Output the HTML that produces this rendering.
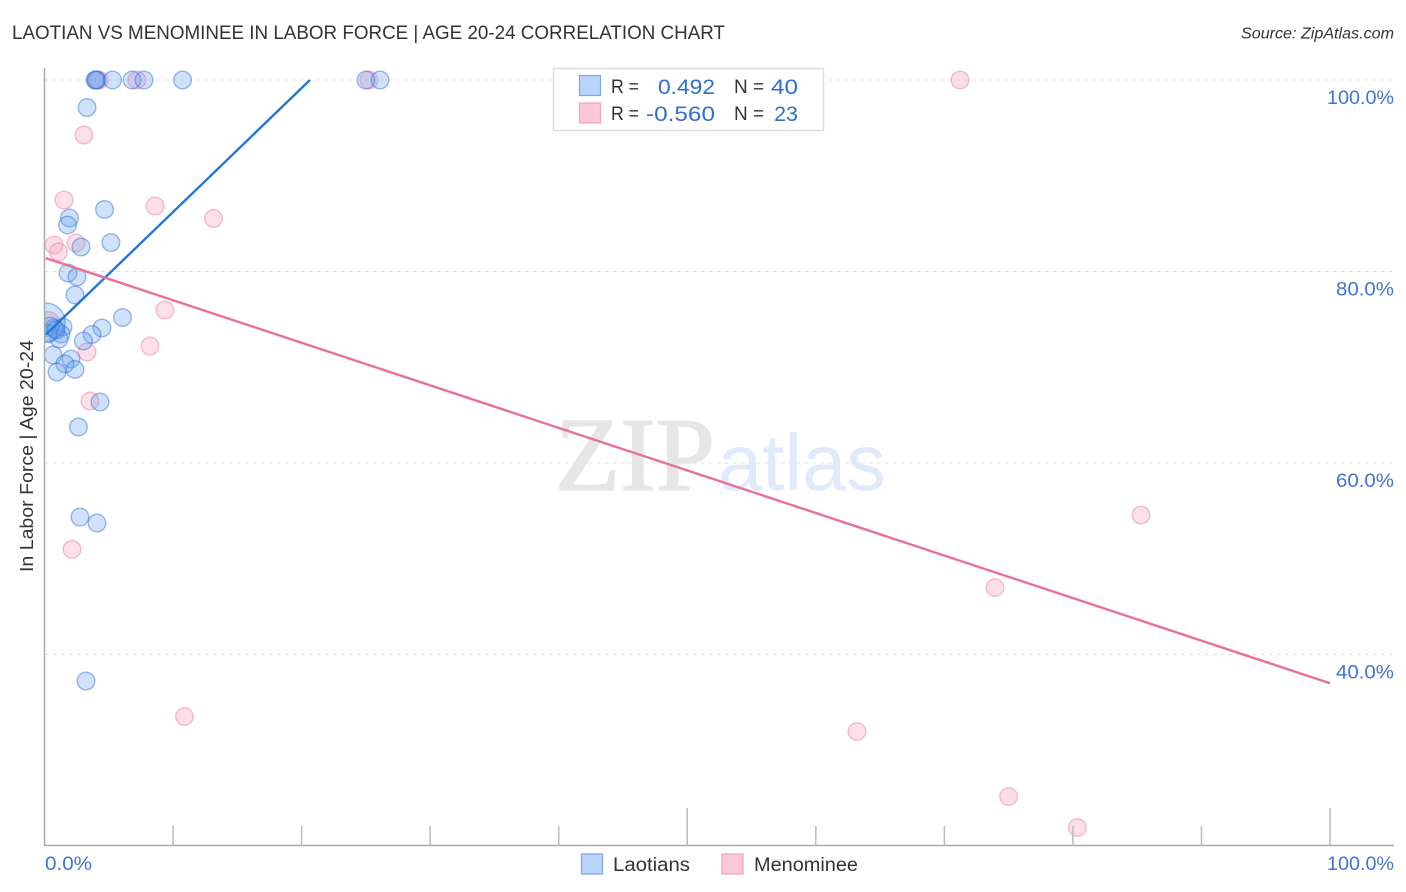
<!DOCTYPE html>
<html lang="en">
<head>
<meta charset="utf-8">
<title>Laotian vs Menominee in Labor Force | Age 20-24 Correlation Chart</title>
<style>
  html, body { margin: 0; padding: 0; background: #fff; }
  svg { display: block; font-family: "Liberation Sans", sans-serif; }
</style>
</head>
<body>
<svg id="chart" xmlns="http://www.w3.org/2000/svg" width="1406" height="892" viewBox="0 0 1406 892">
  <defs>
    <clipPath id="plot-clip"><rect x="45" y="60" width="1349" height="785"></rect></clipPath>
  </defs>
  <rect width="1406" height="892" fill="#ffffff"></rect>

  <text x="12" y="39" font-size="19" fill="#333333" textLength="713" lengthAdjust="spacingAndGlyphs">LAOTIAN VS MENOMINEE IN LABOR FORCE | AGE 20-24 CORRELATION CHART</text>
  <text x="1241" y="38.5" font-size="15.5" font-style="italic" fill="#333333" textLength="153" lengthAdjust="spacingAndGlyphs">Source: ZipAtlas.com</text>

  <g id="grid"></g>

  <g>
    <text x="555" y="490" font-family="'Liberation Serif', serif" font-size="105" fill="#e6e6e6" stroke="#e6e6e6" stroke-width="1.6" textLength="160" lengthAdjust="spacingAndGlyphs">ZIP</text>
    <text x="718" y="490" font-size="80" fill="#e0eafa" textLength="168" lengthAdjust="spacingAndGlyphs">atlas</text>
  </g>

  <g id="points" clip-path="url(#plot-clip)"></g>
  <g id="trends" clip-path="url(#plot-clip)"></g>
  <g id="axes"></g>

  <text transform="translate(33 456) rotate(-90)" font-size="18.5" fill="#333333" text-anchor="middle" textLength="232" lengthAdjust="spacingAndGlyphs">In Labor Force | Age 20-24</text>

  <g>
    <rect x="553.5" y="68.5" width="270" height="62" fill="#ffffff" stroke="#dddddd" stroke-width="1.5"></rect>
    <rect x="579.5" y="75.5" width="21" height="20" fill="#b8d4f8" stroke="#7aa8e6" stroke-width="1.2"></rect>
    <rect x="579.5" y="103" width="21" height="20" fill="#fcc8d9" stroke="#efa3bc" stroke-width="1.2"></rect>
    <text x="611" y="93" font-size="19" fill="#333333" textLength="28" lengthAdjust="spacingAndGlyphs">R =</text>
    <text x="658" y="94" font-size="21.5" fill="#2f6fd0" textLength="57" lengthAdjust="spacingAndGlyphs">0.492</text>
    <text x="734" y="93" font-size="19" fill="#333333">N =</text>
    <text x="771" y="94" font-size="21.5" fill="#2f6fd0" textLength="27" lengthAdjust="spacingAndGlyphs">40</text>
    <text x="611" y="120" font-size="19" fill="#333333" textLength="28" lengthAdjust="spacingAndGlyphs">R =</text>
    <text x="646" y="121" font-size="21.5" fill="#2f6fd0" textLength="69" lengthAdjust="spacingAndGlyphs">-0.560</text>
    <text x="734" y="120" font-size="19" fill="#333333">N =</text>
    <text x="798" y="121" font-size="21.5" fill="#2f6fd0" text-anchor="end">23</text>
  </g>

  <g>
    <rect x="581.5" y="854" width="21" height="20" fill="#b8d4f8" stroke="#7aa8e6" stroke-width="1.2"></rect>
    <text x="613" y="871" font-size="19.5" fill="#333333" textLength="77" lengthAdjust="spacingAndGlyphs">Laotians</text>
    <rect x="722" y="854" width="21" height="20" fill="#fcc8d9" stroke="#efa3bc" stroke-width="1.2"></rect>
    <text x="754" y="871" font-size="19.5" fill="#333333" textLength="104" lengthAdjust="spacingAndGlyphs">Menominee</text>
  </g>
</svg>

<script>
const xTicks = [0, 10, 20, 30, 40, 50, 60, 70, 80, 90, 100];
const xMajorTicks = [50, 100];
const xTickLabels = ["0.0%", "100.0%"];
const yTicks = [100, 80, 60, 40];
const yTickLabels = ["100.0%", "80.0%", "60.0%", "40.0%"];

const laotiansX = [3.93, 4.08, 4.0, 5.29, 6.81, 7.74, 10.74, 25.01, 26.10, 3.31, 4.67, 1.94, 1.79, 5.17, 2.84, 1.83, 2.53, 2.37, 6.07, 4.47, 3.70, 3.03, 1.44, 1.28, 1.13, 0.74, 0.43, 0.66, 2.06, 1.59, 2.37, 0.97, 4.32, 2.64, 2.76, 4.08, 3.23, 0.1, 0.3, 0.9];
const laotiansY = [100, 100, 100, 100, 100, 100, 100, 100, 100, 97.13, 86.48, 85.59, 84.86, 83.03, 82.56, 79.84, 79.43, 77.55, 75.20, 74.10, 73.42, 72.74, 74.20, 73.47, 72.95, 74.10, 74.31, 71.28, 70.86, 70.35, 69.77, 69.50, 66.37, 63.76, 54.36, 53.73, 37.23, 74.7, 73.5, 73.9];
const laotiansWeight = [1, 1, 1, 1, 1, 1, 1, 1, 1, 1, 1, 1, 1, 1, 1, 1, 1, 1, 1, 1, 1, 1, 1, 1, 1, 1, 1, 1, 1, 1, 1, 1, 1, 1, 1, 1, 1, 4.8, 1, 1];

const menomineeX = [4.25, 7.19, 25.25, 71.22, 3.07, 1.52, 8.60, 13.15, 0.74, 1.09, 2.45, 9.37, 8.21, 3.31, 3.54, 2.14, 10.89, 63.20, 75.0, 80.35, 85.30, 73.94, 0.25];
const menomineeY = [100, 100, 100, 100, 94.26, 87.47, 86.84, 85.53, 82.77, 82.04, 82.98, 75.98, 72.22, 71.59, 66.47, 50.98, 33.52, 31.96, 25.17, 21.93, 54.57, 46.99, 74.5];
const menomineeWeight = [1, 1, 1, 1, 1, 1, 1, 1, 1, 1, 1, 1, 1, 1, 1, 1, 1, 1, 1, 1, 1, 1, 2];

const laotiansTrendX = [0.1, 20.65];
const laotiansTrendY = [73.4, 100];
const menomineeTrendX = [0.1, 100];
const menomineeTrendY = [81.4, 37.0];

const SVG_NS = "http://www.w3.org/2000/svg";
const xScale = function (v) { return 44.5 + v * 12.855; };
const yScale = function (v) { return 80 + (100 - v) * 9.575; };
const axisY = 845.5;
const labelWidthByLength = { 4: 47, 5: 58, 6: 67 };

const gridGroup = document.getElementById("grid");
const axesGroup = document.getElementById("axes");
const pointGroup = document.getElementById("points");
const trendGroup = document.getElementById("trends");

function makeLine(parent, x1, y1, x2, y2, stroke, width) {
  const el = document.createElementNS(SVG_NS, "line");
  el.setAttribute("x1", x1);
  el.setAttribute("y1", y1);
  el.setAttribute("x2", x2);
  el.setAttribute("y2", y2);
  el.setAttribute("stroke", stroke);
  el.setAttribute("stroke-width", width);
  parent.appendChild(el);
  return el;
}

function makeLabel(parent, x, y, content, anchor) {
  const el = document.createElementNS(SVG_NS, "text");
  el.setAttribute("x", x);
  el.setAttribute("y", y);
  el.setAttribute("font-size", "19.5");
  el.setAttribute("fill", "#3f74d6");
  el.setAttribute("text-anchor", anchor);
  el.setAttribute("textLength", labelWidthByLength[content.length]);
  el.setAttribute("lengthAdjust", "spacingAndGlyphs");
  el.textContent = content;
  parent.appendChild(el);
  return el;
}

yTicks.forEach(function (t, i) {
  const grid = makeLine(gridGroup, 44.5, yScale(t), 1394, yScale(t), "#e0e0e0", 1);
  grid.setAttribute("stroke-dasharray", "4 4");
  
  
  const label = makeLabel(axesGroup, 1394, yScale(t) + 24, yTickLabels[i], "end");
  
  
});

const yAxisLine = makeLine(axesGroup, 44.5, 68, 44.5, 846, "#aaaaaa", 1.5);



const xAxisLine = makeLine(axesGroup, 44, axisY, 1394, axisY, "#aaaaaa", 1.5);



xTicks.forEach(function (t) {
  if (t === 0) { return; }
  const top = xMajorTicks.indexOf(t) >= 0 ? 808 : 826;
  const tick = makeLine(axesGroup, xScale(t), top, xScale(t), axisY, "#bbbbbb", 1.5);
  
  
});

const xLabelStart = makeLabel(axesGroup, 45, 870, xTickLabels[0], "start");



const xLabelEnd = makeLabel(axesGroup, 1394, 870, xTickLabels[1], "end");



function drawSeries(xs, ys, weights, fill, stroke, seriesName) {
  xs.forEach(function (x, i) {
    const c = document.createElementNS(SVG_NS, "circle");
    c.setAttribute("cx", xScale(x));
    c.setAttribute("cy", yScale(ys[i]));
    c.setAttribute("r", 8.8 * Math.sqrt(weights[i]));
    c.setAttribute("fill", fill);
    c.setAttribute("stroke", stroke);
    c.setAttribute("stroke-width", "1.4");
    
    
    pointGroup.appendChild(c);
  });
}

drawSeries(menomineeX, menomineeY, menomineeWeight, "rgba(248,165,190,0.36)", "rgba(232,110,150,0.42)", "point-menominee");
drawSeries(laotiansX, laotiansY, laotiansWeight, "rgba(100,160,240,0.30)", "rgba(35,105,215,0.45)", "point-laotians");

const laotiansTrend = makeLine(trendGroup, xScale(laotiansTrendX[0]), yScale(laotiansTrendY[0]), xScale(laotiansTrendX[1]), yScale(laotiansTrendY[1]), "#2176d9", 2.4);



const menomineeTrend = makeLine(trendGroup, xScale(menomineeTrendX[0]), yScale(menomineeTrendY[0]), xScale(menomineeTrendX[1]), yScale(menomineeTrendY[1]), "#e8709a", 2.4);


</script>
</body>
</html>
